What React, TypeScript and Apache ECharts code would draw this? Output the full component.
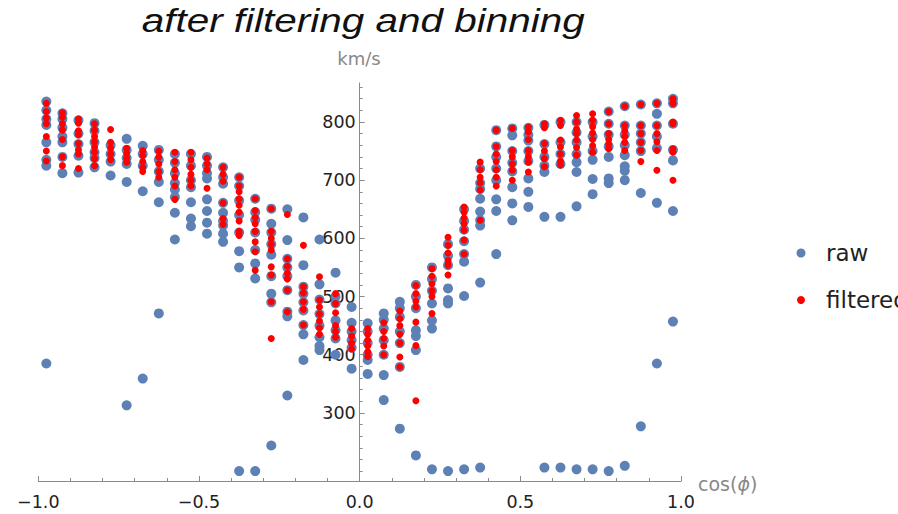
import React, { useEffect, useRef } from "react";
import * as echarts from "echarts";

// bin centres of cos(phi)
const binCenters = [
  -0.975, -0.925, -0.875, -0.825, -0.775, -0.725, -0.675, -0.625, -0.575, -0.525,
  -0.475, -0.425, -0.375, -0.325, -0.275, -0.225, -0.175, -0.125, -0.075, -0.025,
  0.025, 0.075, 0.125, 0.175, 0.225, 0.275, 0.325, 0.375, 0.425, 0.475,
  0.525, 0.575, 0.625, 0.675, 0.725, 0.775, 0.825, 0.875, 0.925, 0.975,
];

// raw speeds (km/s) per bin
const rawValues: number[][] = [
  [835, 820, 805, 795, 765, 735, 725, 385],
  [815, 805, 790, 775, 765, 740, 712],
  [803, 780, 762, 742, 713],
  [798, 785, 765, 748, 738, 722],
  [760, 745, 732, 708],
  [771, 752, 738, 728, 697, 313],
  [759, 745, 725, 681, 359],
  [752, 735, 715, 697, 662, 471],
  [745, 730, 712, 695, 684, 671, 644, 598],
  [745, 725, 700, 688, 662, 634, 621],
  [740, 725, 712, 703, 667, 647, 627, 608],
  [722, 705, 694, 661, 644, 630, 622, 608, 594],
  [705, 690, 665, 640, 610, 578, 550, 200],
  [668, 645, 632, 610, 580, 557, 531, 200],
  [651, 625, 610, 590, 572, 535, 505, 490, 244],
  [650, 597, 565, 550, 535, 511, 474, 466, 330],
  [636, 554, 517, 505, 490, 476, 451, 435, 391],
  [598, 521, 495, 470, 450, 430, 415, 408],
  [541, 500, 488, 459, 442, 428, 400],
  [482, 455, 440, 425, 412, 376],
  [454, 440, 420, 400, 391, 367],
  [471, 460, 445, 425, 400, 365, 322],
  [491, 480, 465, 440, 420, 379, 273],
  [520, 500, 480, 442, 432, 408, 227],
  [550, 530, 510, 488, 459, 445, 203],
  [590, 570, 554, 514, 494, 488, 200],
  [650, 630, 615, 595, 573, 560, 501, 203],
  [720, 695, 685, 668, 646, 631, 622, 524, 206],
  [786, 758, 740, 720, 700, 667, 647, 573],
  [789, 777, 750, 730, 715, 688, 660, 631],
  [790, 778, 768, 750, 733, 703, 680, 654],
  [795, 762, 740, 725, 714, 637, 206],
  [800, 765, 745, 728, 637, 206],
  [800, 782, 765, 745, 731, 714, 655, 203],
  [800, 775, 750, 735, 702, 676, 203],
  [818, 797, 778, 758, 740, 703, 695, 200],
  [827, 794, 778, 760, 743, 724, 716, 700, 209],
  [830, 794, 780, 765, 750, 678, 277],
  [832, 814, 794, 775, 755, 661, 385],
  [840, 832, 797, 752, 734, 647, 457],
];

// filtered speeds (km/s) per bin
const filteredValues: number[][] = [
  [832, 818, 807, 797, 775, 750, 733],
  [816, 808, 797, 786, 770, 740, 725],
  [805, 798, 785, 778, 763, 752, 745, 720],
  [797, 786, 775, 766, 757, 748, 737, 725],
  [787, 765, 755, 745, 735],
  [755, 746, 738, 731],
  [751, 742, 732, 722, 715],
  [750, 740, 728, 715, 705],
  [748, 732, 718, 705, 690, 667],
  [748, 735, 722, 710, 700, 690],
  [738, 728, 718, 686],
  [722, 710, 698, 661, 634, 624],
  [705, 690, 680, 668, 657, 645, 630, 612, 605],
  [668, 648, 636, 625, 612, 594, 577, 545],
  [651, 612, 600, 590, 580, 551, 537, 491, 428],
  [641, 565, 552, 540, 530, 511, 474],
  [588, 517, 506, 491, 478, 451],
  [534, 494, 482, 470, 458, 446, 435],
  [505, 488, 472, 450, 440, 430],
  [445, 432, 420, 410],
  [445, 435, 425, 415, 405, 397],
  [455, 440, 428, 415, 400],
  [475, 462, 450, 435, 420, 396, 379],
  [519, 505, 492, 482, 456, 416, 321],
  [548, 535, 522, 510, 500, 471],
  [602, 588, 575, 562, 554, 537],
  [654, 645, 635, 625, 614, 597, 573],
  [731, 718, 705, 695, 683, 631],
  [786, 758, 745, 732, 718, 705, 690],
  [789, 751, 740, 728, 717, 700],
  [791, 783, 770, 751, 740, 731, 714],
  [797, 790, 763, 750, 737, 723],
  [803, 794, 769, 757, 745, 733, 726],
  [811, 800, 788, 780, 769, 756, 743],
  [814, 803, 792, 781, 770, 759, 748],
  [818, 797, 780, 770, 762, 754],
  [827, 794, 785, 775, 765, 751],
  [830, 794, 780, 765, 751, 732],
  [832, 794, 780, 766, 751, 717],
  [840, 832, 800, 797, 754, 748, 700],
];

const yRange = [183, 867];
const yLabelValues = [300, 400, 500, 600, 700, 800];
const yMinorValues = [
  200, 220, 240, 260, 280, 320, 340, 360, 380, 420, 440, 460, 480, 520, 540, 560,
  580, 620, 640, 660, 680, 720, 740, 760, 780, 820, 840, 860,
];
const seriesNames = ["raw", "filtered"];
const seriesColors = ["#5E81B5", "#FF0000"];
const titleText = "after filtering and binning";
const yName = "km/s";

const toPoints = (bins: number[][]) =>
  bins.flatMap((vals, i) => vals.map((v) => [binCenters[i], v]));

const AXIS_COLOR = "#8a8a8a";
const LABEL_COLOR = "#222";
const NAME_COLOR = "#888";
const FONT = "DejaVu Sans";

// grid geometry
const GRID_LEFT = 38.3;
const GRID_RIGHT = 217;
const CHART_W = 898;
const Y_AXIS_OFFSET = -(CHART_W - GRID_LEFT - GRID_RIGHT) / 2; // put y axis at x = 0

export default function App() {
  const ref = useRef<HTMLDivElement>(null);

  useEffect(() => {
    if (!ref.current) return;
    const chart = echarts.init(ref.current, undefined, { renderer: "svg" });
    const legendItems = seriesNames.flatMap((name, i) => [
      {
        type: "circle",
        x: 801,
        y: 253 + i * 47,
        shape: { cx: 0, cy: 0, r: i === 0 ? 4.5 : 4 },
        style: { fill: seriesColors[i] },
      },
      {
        type: "text",
        x: 826,
        y: 253 + i * 47,
        style: {
          text: name,
          fontFamily: FONT,
          fontSize: 23,
          fill: LABEL_COLOR,
          align: "left",
          verticalAlign: "middle",
        },
      },
    ]);
    const option: any = {
      animation: false,
      backgroundColor: "#fff",
      grid: { left: GRID_LEFT, right: GRID_RIGHT, top: 83, bottom: 33, containLabel: false },
      xAxis: {
        type: "value",
        min: -1,
        max: 1,
        interval: 0.5,
        position: "bottom",
        axisLine: { show: true, onZero: false, lineStyle: { color: AXIS_COLOR, width: 1 } },
        axisTick: { show: true, inside: true, length: 5, lineStyle: { color: AXIS_COLOR } },
        minorTick: { show: true, splitNumber: 5, length: 3, lineStyle: { color: AXIS_COLOR } },
        splitLine: { show: false },
        minorSplitLine: { show: false },
        axisLabel: {
          margin: 12,
          fontFamily: FONT,
          fontSize: 17.5,
          color: LABEL_COLOR,
          formatter: (v: number) => (v < 0 ? "\u2212" : "") + Math.abs(v).toFixed(1),
        },
      },
      yAxis: [
        {
          type: "value",
          min: yRange[0],
          max: yRange[1],
          position: "left",
          offset: Y_AXIS_OFFSET,
          axisLine: { show: true, onZero: false, lineStyle: { color: AXIS_COLOR, width: 1 } },
          axisTick: {
            show: true,
            inside: true,
            length: 5,
            customValues: yLabelValues,
            lineStyle: { color: AXIS_COLOR },
          },
          axisLabel: {
            customValues: yLabelValues,
            margin: 4,
            fontFamily: FONT,
            fontSize: 17.5,
            color: LABEL_COLOR,
          },
          splitLine: { show: false },
        },
        {
          type: "value",
          min: yRange[0],
          max: yRange[1],
          position: "left",
          offset: Y_AXIS_OFFSET,
          axisLine: { show: false, onZero: false },
          axisTick: {
            show: true,
            inside: true,
            length: 3,
            customValues: yMinorValues,
            lineStyle: { color: AXIS_COLOR },
          },
          axisLabel: { show: false },
          splitLine: { show: false },
        },
      ],
      graphic: [
        {
          type: "text",
          x: 141.7,
          y: 20.2,
          scaleX: 1.19,
          style: {
            text: titleText,
            fontFamily: "Liberation Sans",
            fontSize: 34,
            fontStyle: "italic",
            fill: "#111",
            align: "left",
            verticalAlign: "middle",
          },
        },
        {
          type: "text",
          x: 359,
          y: 58.8,
          style: {
            text: yName,
            fontFamily: FONT,
            fontSize: 18,
            fill: NAME_COLOR,
            align: "center",
            verticalAlign: "middle",
          },
        },
        {
          type: "text",
          x: 698,
          y: 484,
          style: {
            text: "cos({i|\u03D5})",
            fontFamily: FONT,
            fontSize: 19,
            fill: NAME_COLOR,
            align: "left",
            verticalAlign: "middle",
            rich: {
              i: { fontFamily: FONT, fontSize: 19, fontStyle: "italic", fill: NAME_COLOR },
            },
          },
        },
        ...legendItems,
      ],
      series: [
        {
          name: seriesNames[0],
          type: "scatter",
          data: toPoints(rawValues),
          symbol: "circle",
          symbolSize: 10,
          itemStyle: { color: seriesColors[0], opacity: 1 },
          emphasis: { disabled: true },
          z: 2,
        },
        {
          name: seriesNames[1],
          type: "scatter",
          data: toPoints(filteredValues),
          symbol: "circle",
          symbolSize: 7,
          itemStyle: { color: seriesColors[1], opacity: 1 },
          emphasis: { disabled: true },
          z: 3,
        },
      ],
    };
    chart.setOption(option);
    return () => chart.dispose();
  }, []);

  return (
    <div
      ref={ref}
      style={{ position: "fixed", left: 0, top: 0, width: 898, height: 514, background: "#fff" }}
    />
  );
}
